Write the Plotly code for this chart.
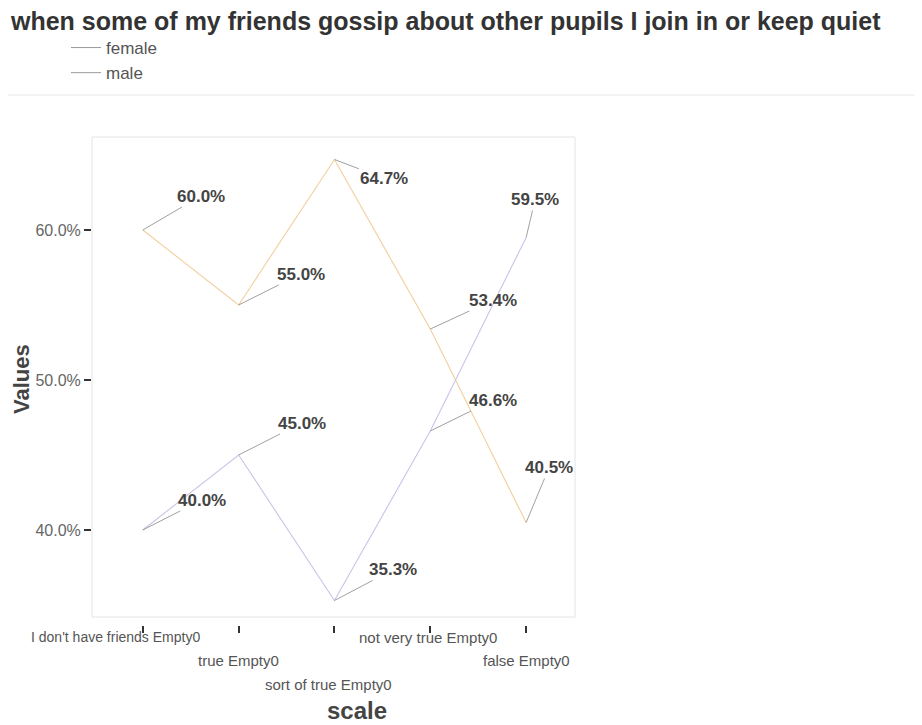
import plotly.graph_objects as go

categories = ["I don't have friends Empty0", "true Empty0", "sort of true Empty0",
              "not very true Empty0", "false Empty0"]
female = [60.0, 55.0, 64.7, 53.4, 40.5]
male = [40.0, 45.0, 35.3, 46.6, 59.5]
series_names = ["female", "male"]
title_text = "when some of my friends gossip about other pupils I join in or keep quiet"
y_ticks = [40, 50, 60]

FONT = "Liberation Sans"
line_colors = ["#f1cf9e", "#c9c3e8"]

fig = go.Figure()
for name, vals, col in zip(series_names, [female, male], line_colors):
    fig.add_trace(go.Scatter(x=categories, y=vals, mode="lines", name=name,
                             line=dict(color=col, width=1.1), showlegend=False,
                             hoverinfo="skip"))
# legend entries (grey sample lines as in the reference)
for name in series_names:
    fig.add_trace(go.Scatter(x=[None], y=[None], mode="lines", name=name,
                             line=dict(color="#9a9a9a", width=1)))

# data label offsets (px) for each point
female_off = [(58, -34), (62, -31), (50, 19), (63, -29), (23, -55)]
male_off = [(59, -30), (63, -32), (59, -31), (63, -31), (9, -38)]

annotations = []
for vals, offs in [(female, female_off), (male, male_off)]:
    for c, v, (ax, ay) in zip(categories, vals, offs):
        annotations.append(dict(x=c, y=v, xref="x", yref="y", text=f"<b>{v:.1f}%</b>",
                                showarrow=True, arrowhead=0, arrowwidth=0.8,
                                arrowcolor="#888", ax=ax, ay=ay, standoff=0,
                                font=dict(family=FONT, size=17, color="#444")))

# staggered category labels
rows = [0, 1, 2, 0, 1]
xshifts = [-27, 0, -6, -2, 0]
sizes = [14, 15, 15, 15, 15]
for c, r, xs, fs in zip(categories, rows, xshifts, sizes):
    annotations.append(dict(x=c, xref="x", yref="paper", y=(625 - (637 + 23.5 * r)) / 488,
                            text=c, showarrow=False, xshift=xs, yanchor="middle",
                            font=dict(family=FONT, size=fs, color="#555")))

# axis titles
annotations.append(dict(x=(357 - 92) / 483, y=(625 - 710) / 488, xref="paper", yref="paper",
                        text="<b>scale</b>", showarrow=False, yanchor="middle",
                        font=dict(family=FONT, size=24, color="#444")))
annotations.append(dict(x=(21 - 92) / 483, y=(625 - 379) / 488, xref="paper", yref="paper",
                        text="<b>Values</b>", showarrow=False, textangle=-90,
                        xanchor="center", yanchor="middle",
                        font=dict(family=FONT, size=22, color="#444")))

shapes = [
    # plot frame (leaves a gap above the x ticks)
    dict(type="rect", xref="paper", yref="paper", x0=0, x1=1, y0=8 / 488, y1=1,
         line=dict(color="#e4e4e4", width=1), layer="below"),
    # header box
    dict(type="rect", xref="paper", yref="paper", x0=(-3 - 92) / 483, x1=(918 - 92) / 483,
         y0=(625 - 95) / 488, y1=(625 + 3) / 488, line=dict(color="#e6e6e6", width=1)),
]

fig.update_layout(
    width=922, height=725,
    margin=dict(l=84, r=355, t=129, b=108),
    paper_bgcolor="white", plot_bgcolor="white",
    font=dict(family=FONT, color="#555"),
    title=dict(text=f"<b>{title_text}</b>", x=3 / 922, xanchor="left", xref="container",
               y=1 - 4 / 725, yanchor="top", yref="container", pad=dict(t=0, l=0),
               font=dict(family=FONT, size=25, color="#333")),
    showlegend=True,
    legend=dict(x=(66 - 92) / 483, xanchor="left", y=(625 - 30) / 488, yanchor="top",
                font=dict(family=FONT, size=17, color="#555"), bgcolor="rgba(0,0,0,0)",
                tracegroupgap=0),
    xaxis=dict(type="category", categoryorder="array", categoryarray=categories,
               range=[-0.53, 4.51], showgrid=False, zeroline=False, showline=False,
               showticklabels=False, ticks="outside", ticklen=7, tickwidth=2,
               tickcolor="#333"),
    yaxis=dict(range=[40 - 95 / 15, 60 + 93 / 15], showgrid=False, zeroline=False,
               showline=False, tickvals=y_ticks, ticktext=[f"{v:.1f}%" for v in y_ticks],
               ticks="outside", ticklen=7, tickwidth=2, tickcolor="#333",
               tickfont=dict(family=FONT, size=16, color="#666")),
    annotations=annotations,
    shapes=shapes,
)

fig.write_html("out.html")
